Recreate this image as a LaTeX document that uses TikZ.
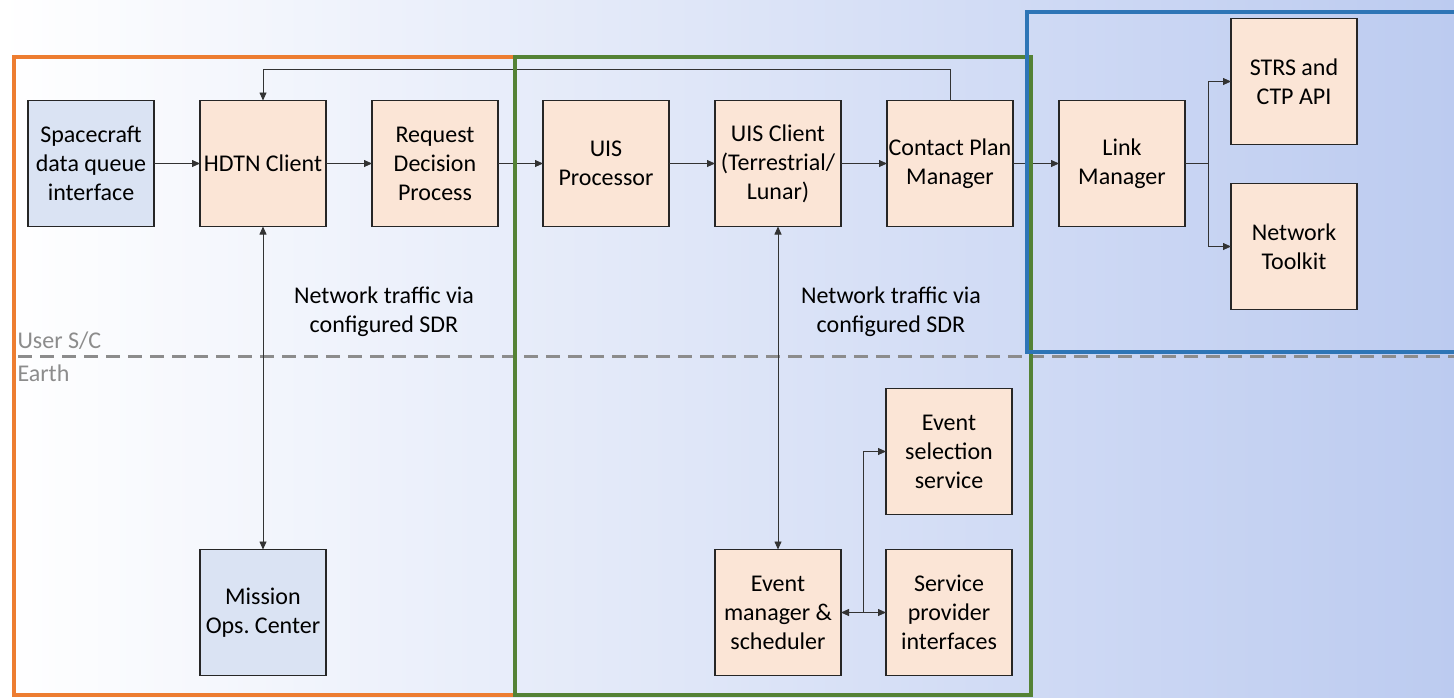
\documentclass[tikz,border=0pt]{standalone}
\usepackage{fontspec}
\setmainfont{Carlito}
\usetikzlibrary{calc}
\usetikzlibrary{positioning}
\usetikzlibrary{arrows.meta}

\definecolor{boxpeach}{RGB}{251,229,214}
\definecolor{boxblue}{RGB}{218,227,243}
\definecolor{zoneorange}{RGB}{237,125,49}
\definecolor{zonegreen}{RGB}{84,130,53}
\definecolor{zoneblue}{RGB}{46,117,182}
\definecolor{bgblue}{RGB}{188,203,240}
\definecolor{splitgray}{RGB}{140,140,140}

\begin{document}
\begin{tikzpicture}[
    font=\fontsize{24}{29}\selectfont,
    >={Triangle[length=8pt,width=7pt]},
    block/.style={draw=black!85, line width=1.5pt, fill=boxpeach,
      minimum width=126pt, minimum height=126pt, inner sep=0pt,
      outer sep=0pt, align=center},
    sideblock/.style={block, fill=boxblue},
    conn/.style={draw=black!80, line width=0.8pt},
    zone/.style={line width=4pt},
    note/.style={align=center, inner sep=0pt}
  ]
  \useasboundingbox (0,0) rectangle (1454pt,-697pt);
  \shade[left color=white, right color=bgblue] (0,0) rectangle (1454pt,-697pt);

  % spacecraft / earth split
  \draw[splitgray, line width=3pt, dash pattern=on 14pt off 8pt] (18pt,-356pt) -- (1454pt,-356pt);
  \node[anchor=west, text=splitgray] (usersc) at (14pt,-341pt) {User S/C};
  \node[anchor=west, text=splitgray] (earth) at (14pt,-373pt) {Earth};

  % top row
  \node[sideblock] (sc) at (91pt,-163.5pt) {Spacecraft\\data queue\\interface};
  \node[block, right=46pt of sc] (hdtn) {HDTN Client};
  \node[block, right=46pt of hdtn] (rdp) {Request\\Decision\\Process};
  \node[block, right=45pt of rdp] (uisp) {UIS\\Processor};
  \node[block, right=46pt of uisp] (uisc) {UIS Client\\(Terrestrial/\\Lunar)};
  \node[block, right=46pt of uisc] (cpm) {Contact Plan\\Manager};
  \node[block, right=46pt of cpm] (lm) {Link\\Manager};
  \node[block, right=46pt of lm, yshift=82pt] (strs) {STRS and\\CTP API};
  \node[block, below=39pt of strs] (ntk) {Network\\Toolkit};

  % ground side
  \node[sideblock, below=323pt of hdtn] (moc) {Mission\\Ops.\ Center};
  \node[block, below=323pt of uisc] (evmgr) {Event\\manager \&\\scheduler};
  \node[block, right=45pt of evmgr] (spi) {Service\\provider\\interfaces};
  \node[block, above=35pt of spi] (evsel) {Event\\selection\\service};

  \node[note] (sdr1) at (384pt,-312pt) {Network traffic via\\configured SDR};
  \node[note] (sdr2) at (891pt,-312pt) {Network traffic via\\configured SDR};

  \coordinate (lmjoin) at ($(lm.east)!0.5!(strs.west |- lm.east)$);
  \coordinate (evjoin) at ($(evmgr.east)!0.5!(spi.west)$);

  \draw[conn, ->] (sc) -- (hdtn);
  \draw[conn, ->] (hdtn) -- (rdp);
  \draw[conn, ->] (rdp) -- (uisp);
  \draw[conn, ->] (uisp) -- (uisc);
  \draw[conn, ->] (uisc) -- (cpm);
  \draw[conn, ->] (cpm) -- (lm);
  \draw[conn, ->] (cpm.north) -- ++(0,31pt) -| (hdtn.north);
  \draw[conn] (lm) -- (lmjoin);
  \draw[conn, ->] (lmjoin) |- (strs);
  \draw[conn, ->] (lmjoin) |- (ntk);
  \draw[conn, <->] (hdtn) -- (moc);
  \draw[conn, <->] (uisc) -- (evmgr);
  \draw[conn, <->] (evmgr) -- (spi);
  \draw[conn, ->] (evjoin) |- (evsel);

  % zones
  \draw[zone, zoneorange] (14pt,-57pt) rectangle (515pt,-695pt);
  \draw[zone, zonegreen] (515pt,-57pt) rectangle (1031pt,-695pt);
  \draw[zone, zoneblue] (1027pt,-12pt) rectangle (1470pt,-352pt);
\end{tikzpicture}
\end{document}
